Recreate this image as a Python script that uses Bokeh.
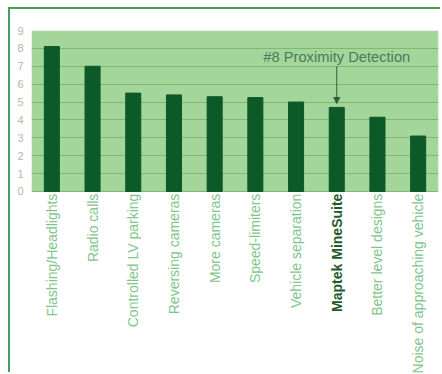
import math
from bokeh.plotting import figure
from bokeh.models import Range1d, FixedTicker, Label, Arrow, NormalHead, BoxAnnotation, ColumnDataSource
from bokeh.core.properties import value
from bokeh.embed import file_html
from bokeh.resources import INLINE

categories = ["Flashing/Headlights", "Radio calls", "Controlled LV parking",
              "Reversing cameras", "More cameras", "Speed-limiters",
              "Vehicle separation", "Maptek MineSuite", "Better level designs",
              "Noise of approaching vehicle"]
values = [8.1, 7.0, 5.5, 5.4, 5.3, 5.25, 5.0, 4.7, 4.15, 3.1]
y_ticks = [0, 1, 2, 3, 4, 5, 6, 7, 8, 9]
highlight = "Maptek MineSuite"
annotation_text = "#8 Proximity Detection"
annotation_from = 7.0

xs = [i + 0.5 for i in range(len(categories))]
y_max = 9
y_low = -10.23  # room below the axis for the vertical category labels

p = figure(width=432, height=365, output_backend="svg", toolbar_location=None,
           x_range=Range1d(0, len(categories)), y_range=Range1d(y_low, y_max),
           min_border_left=21, min_border_right=4, min_border_top=21,
           min_border_bottom=0, margin=(9, 0, 0, 10))
p.styles = {"box-shadow": "-2px -2px 0 0 #4a9e5c"}

p.background_fill_color = "white"
p.border_fill_color = "white"
p.outline_line_color = None

# green plotting area
p.add_layout(BoxAnnotation(bottom=0, top=y_max, left=0, right=len(categories),
                           fill_color="#a4d69c", fill_alpha=1, line_color=None,
                           level="image"))

p.vbar(x=xs, top=values, width=0.37, color="#0c5a28")

p.xaxis.visible = False
p.xgrid.visible = False
p.ygrid.ticker = FixedTicker(ticks=y_ticks)
p.ygrid.grid_line_color = "#78bb72"
p.ygrid.grid_line_width = 1.2

p.yaxis.ticker = FixedTicker(ticks=y_ticks)
p.yaxis.axis_line_color = None
p.yaxis.major_tick_line_color = None
p.yaxis.minor_tick_line_color = None
p.yaxis.major_label_text_color = "#aebaae"
p.yaxis.major_label_text_font_size = "11px"
p.yaxis.major_label_text_font = "Liberation Sans"
p.yaxis.major_label_standoff = 2

src = ColumnDataSource(dict(
    x=xs, y=[-0.12] * len(categories), text=categories,
    color=["#1f5a2e" if c == highlight else "#80c68a" for c in categories],
    style=["bold" if c == highlight else "normal" for c in categories]))
p.text(x="x", y="y", text="text", source=src, angle=math.pi / 2,
       text_align="right", text_baseline="middle",
       text_font=value("Liberation Sans"), text_font_size="14px",
       text_color="color", text_font_style="style")

idx = categories.index(highlight)
p.add_layout(Label(x=xs[idx], y=7.5, text=annotation_text, text_align="center",
                   text_baseline="middle", text_font="Liberation Sans",
                   text_font_size="14.7px", text_color="#4d7a56"))
p.add_layout(Arrow(end=NormalHead(size=6, fill_color="#2f5f3a", line_color="#2f5f3a"),
                   x_start=xs[idx], y_start=annotation_from, x_end=xs[idx],
                   y_end=values[idx] + 0.22, line_color="#2f5f3a", line_width=1))

open("out.html", "w").write(file_html(p, INLINE))
